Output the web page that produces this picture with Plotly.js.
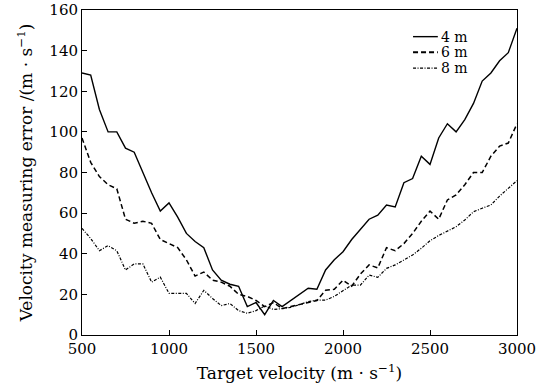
<!DOCTYPE html>
<html>
<head>
<meta charset="utf-8">
<script src="https://cdn.plot.ly/plotly-3.0.1.min.js"></script>
<style>html,body{margin:0;padding:0;background:#fff}#chart{width:550px;height:390px}</style>
</head>
<body>
<div id="chart"></div>
<script>
var velocity = [];
for (var v = 500; v <= 3000; v += 50) velocity.push(v);

var err4m = [129,128,111,100,100,92,90,80,70,61,65,58,50,46,43,32,27,25,24,14,16,10,17,14,17,20,23,22.5,32,37,41,47,52,57,59,64,63,75,77,88,84,97,104,100,106,114,125,129,135,139,151];
var err6m = [97,85,78,74,72,57,55,56,55,47,45,43,37,29,31,27,26,24,20,19,17,14,16,13,14,15,16,17,22,22.5,27,24,30,34.5,33,43,41.5,45,50,56,61,57,66.5,69,74,80,80,88,93,94.5,104];
var err8m = [52.5,47.5,41.5,44,41.5,32,35,35,26,28.5,20.5,20.5,20.5,15.5,22,18,14.5,15.5,12,10.7,12,14.3,12.6,13,13.6,15,16.4,17.2,17.2,19,22,24.6,24.5,29.5,28.4,32.8,34.5,37,39.4,42.7,46.4,49,51.3,53.3,56.6,60.7,62.4,64,68.4,72.2,76];

var seriesNames = ["4 m", "6 m", "8 m"];
var seriesData = [err4m, err6m, err8m];
var dashes = ["solid", "5px,3px", "3px,1.5px,1px,1.5px"];
var widths = [1.4, 1.5, 1.2];

var traces = seriesData.map(function (d, i) {
  return {
    x: velocity, y: d, type: "scatter", mode: "lines", name: seriesNames[i],
    line: {color: "#000", width: widths[i], dash: dashes[i]}, showlegend: false
  };
});

// hand-built legend (compact spacing like the reference)
var legY = [0.918, 0.870, 0.821];
var shapes = [], annotations = [];
seriesNames.forEach(function (n, i) {
  shapes.push({type: "line", xref: "paper", yref: "paper", x0: 0.761, x1: 0.818, y0: legY[i], y1: legY[i],
               line: {color: "#000", width: widths[i] + (i === 1 ? 0.6 : 0), dash: dashes[i]}});
  annotations.push({xref: "paper", yref: "paper", x: 0.82, y: legY[i], xanchor: "left", yanchor: "middle",
                    text: n, showarrow: false, font: {family: "DejaVu Serif, serif", size: 14, color: "#000"}});
});

var font = "DejaVu Serif, serif";
var layout = {
  width: 550, height: 390,
  margin: {l: 82, r: 33, t: 10, b: 55},
  paper_bgcolor: "#fff", plot_bgcolor: "#fff",
  font: {family: font, size: 15, color: "#000"},
  showlegend: false,
  shapes: shapes, annotations: annotations,
  xaxis: {
    range: [500, 3000], tickvals: [500,1000,1500,2000,2500,3000],
    ticks: "inside", ticklen: 5, tickcolor: "#000", showgrid: false, zeroline: false,
    showline: true, linecolor: "#000", linewidth: 1, mirror: true,
    tickfont: {family: font, size: 15},
    title: {text: "Target velocity (m · s<sup>−1</sup>)", font: {family: font, size: 17}, standoff: 10}
  },
  yaxis: {
    range: [0, 160], tickvals: [0,20,40,60,80,100,120,140,160],
    ticks: "inside", ticklen: 5, tickcolor: "#000", showgrid: false, zeroline: false,
    showline: true, linecolor: "#000", linewidth: 1, mirror: true,
    tickfont: {family: font, size: 15},
    title: {text: "Velocity measuring error /(m · s<sup>−1</sup>)", font: {family: font, size: 17}, standoff: 12}
  }
};
Plotly.newPlot("chart", traces, layout, {displayModeBar: false, staticPlot: true});
</script>
</body>
</html>
